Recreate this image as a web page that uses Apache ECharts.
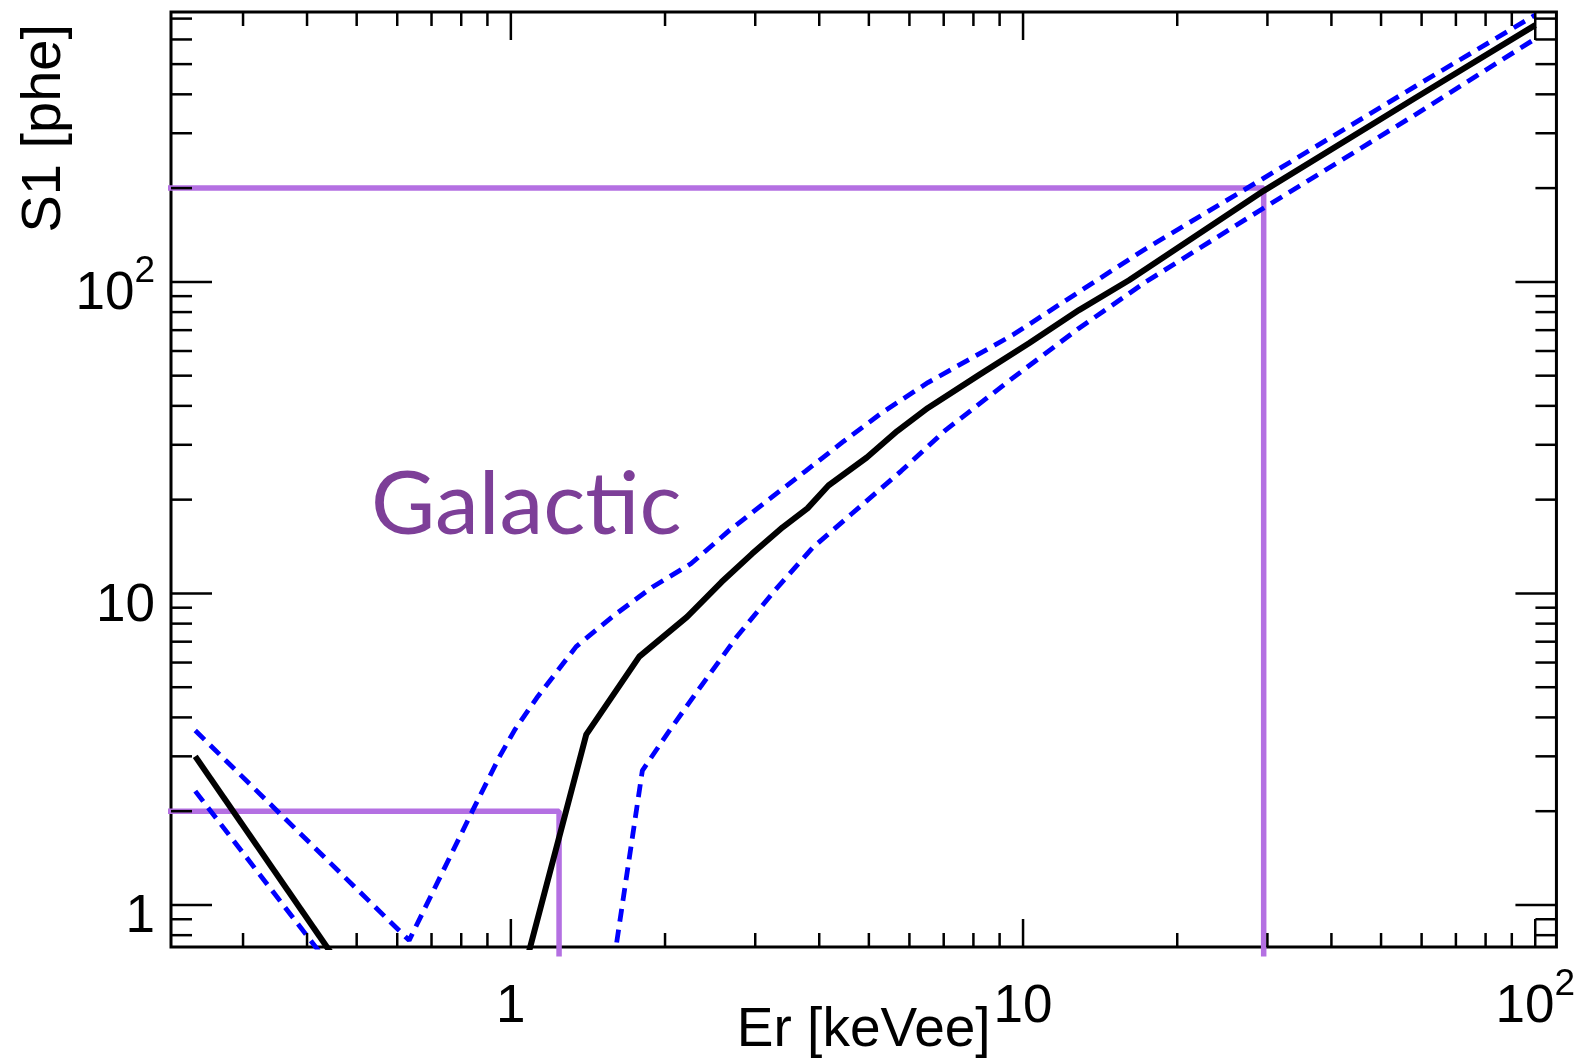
<!DOCTYPE html>
<html><head><meta charset="utf-8">
<script src="https://cdn.jsdelivr.net/npm/echarts@6/dist/echarts.min.js"></script>
<style>html,body{margin:0;padding:0;background:#fff}#c{width:1578px;height:1063px}</style>
</head><body><div id="c"></div>
<script>
// ---- data ----
const blackLowX = [0.242, 0.46];
const blackLowY = [3.0, 0.65];
const blackHighX = [1.07, 1.404, 1.781, 2.208, 2.578, 2.957, 3.393, 3.794, 4.169, 4.953, 5.68, 6.52, 8.21, 10.27, 12.86, 16.1, 29.5, 58.4, 100];
const blackHighY = [0.65, 3.53, 6.27, 8.41, 10.88, 13.4, 16.3, 18.75, 22.2, 27.3, 33.2, 39.4, 50.3, 63.5, 81.2, 101.2, 196, 390, 667];
const upperX = [0.242, 0.633, 0.841, 0.951, 1.019, 1.129, 1.341, 1.592, 1.891, 2.246, 2.667, 3.167, 3.762, 4.467, 5.3, 6.52, 9.54, 12.86, 17.36, 29.3, 58.4, 100];
const upperY = [3.63, 0.77, 2.0, 3.0, 3.66, 4.67, 6.75, 8.52, 10.49, 12.45, 15.9, 19.85, 24.7, 30.8, 38.0, 47.5, 67.5, 92.9, 127.8, 213.8, 425, 719];
const lowerLeftX = [0.242, 0.44];
const lowerLeftY = [2.32, 0.65];
const lowerX = [1.587, 1.806, 2.026, 2.324, 2.761, 3.278, 3.893, 4.623, 5.78, 7.07, 9.54, 12.86, 17.36, 29.3, 58.4, 100];
const lowerY = [0.65, 2.7, 3.57, 4.91, 7.26, 10.24, 14.08, 17.98, 24.7, 33.5, 49.1, 71.0, 100, 171.4, 344.6, 603];
const purpleHighX = [0.213, 29.5, 29.5];
const purpleHighY = [200, 200, 0.683];
const purpleLowX = [0.213, 1.242, 1.242];
const purpleLowY = [2.0, 2.0, 0.683];

const xRange = [0.217, 110];
const yRange = [0.733, 735];
const xMajorTicks = [1, 10, 100];
const xMinorTicks = [0.3, 0.4, 0.5, 0.6, 0.7, 0.8, 0.9, 2, 3, 4, 5, 6, 7, 8, 9, 20, 30, 40, 50, 60, 70, 80, 90];
const yMajorTicks = [1, 10, 100];
const yMinorTicks = [0.8, 0.9, 2, 3, 4, 5, 6, 7, 8, 9, 20, 30, 40, 50, 60, 70, 80, 90, 200, 300, 400, 500, 600, 700];
const tickLabelValues = [1, 10, 100];
const tickLabelTexts = ['{b|1}', '{b|10}', '{b|10}{s|2}'];
const xTitle = 'Er [keVee]';
const yTitle = 'S1 [phe]';
const annotation = 'Galactic';

// ---- chart ----
const FONT = '"Liberation Sans", Arial, Helvetica, sans-serif';
const zip = (xs, ys) => xs.map((x, i) => [x, ys[i]]);
function labelFor(v) {
  for (let i = 0; i < tickLabelValues.length; i++) {
    if (Math.abs(v - tickLabelValues[i]) < 1e-6 * tickLabelValues[i]) return tickLabelTexts[i];
  }
  return '';
}
const rich = {
  b: {fontSize: 53, fontFamily: FONT, color: '#000', lineHeight: 68, verticalAlign: 'bottom'},
  s: {fontSize: 37, fontFamily: FONT, color: '#000', lineHeight: 36, verticalAlign: 'top'}
};
function tickSeries(values, axis, len) {
  return {
    type: 'custom', coordinateSystem: 'cartesian2d', silent: true, clip: false, z: 10,
    data: values.map(v => axis === 'x' ? [v, 1] : [1, v]),
    renderItem: function (params, api) {
      const cs = params.coordSys;
      const p = api.coord([api.value(0), api.value(1)]);
      const st = {stroke: '#000', lineWidth: 2.5};
      if (axis === 'x') {
        const yb = cs.y + cs.height;
        return {type: 'group', children: [
          {type: 'line', shape: {x1: p[0], y1: yb, x2: p[0], y2: yb - len}, style: st},
          {type: 'line', shape: {x1: p[0], y1: cs.y, x2: p[0], y2: cs.y + len}, style: st}
        ]};
      }
      const xr = cs.x + cs.width;
      return {type: 'group', children: [
        {type: 'line', shape: {x1: cs.x, y1: p[1], x2: cs.x + len, y2: p[1]}, style: st},
        {type: 'line', shape: {x1: xr, y1: p[1], x2: xr - len, y2: p[1]}, style: st}
      ]};
    }
  };
}
const blue = {color: '#0000ff', width: 4.8, type: [13, 8]};
const purple = {color: '#b470e2', width: 5.5};
const black = {color: '#000', width: 6};
function lineSeries(data, style, clip, z) {
  return {type: 'line', data: data, showSymbol: false, symbol: 'none', clip: clip, z: z,
          lineStyle: style, silent: true, animation: false};
}
const chart = echarts.init(document.getElementById('c'));
chart.setOption({
  animation: false,
  backgroundColor: '#fff',
  grid: {left: 171, right: 20, top: 12, bottom: 111, show: true, borderColor: '#000', borderWidth: 3, backgroundColor: 'transparent'},
  xAxis: {
    type: 'log', logBase: 10, min: xRange[0], max: xRange[1],
    axisLine: {show: false}, axisTick: {show: false}, splitLine: {show: false},
    axisLabel: {showMinLabel: false, showMaxLabel: false, margin: 19, formatter: labelFor, rich: rich},
    name: xTitle, nameLocation: 'middle', nameGap: 56, nameMoveOverlap: false,
    nameTextStyle: {fontSize: 55, fontFamily: FONT, color: '#000'}
  },
  yAxis: {
    type: 'log', logBase: 10, min: yRange[0], max: yRange[1],
    axisLine: {show: false}, axisTick: {show: false}, splitLine: {show: false},
    axisLabel: {showMinLabel: false, showMaxLabel: false, margin: 16, padding: [10, 0, 0, 0], formatter: labelFor, rich: rich}
  },
  graphic: [
    {type: 'text', x: 45, y: 24, rotation: Math.PI / 2,
     style: {text: yTitle, fontSize: 56, fontFamily: FONT, fill: '#000', align: 'right', verticalAlign: 'middle', textAlign: 'right', textVerticalAlign: 'middle'}},
    {type: 'text', x: 371, y: 506,
     style: {text: annotation, fontSize: 88, fontFamily: 'Lato', fill: '#7d3f98', align: 'left', verticalAlign: 'middle', textAlign: 'left', textVerticalAlign: 'middle'}}
  ],
  series: [
    lineSeries(zip(purpleHighX, purpleHighY), purple, false, 2),
    lineSeries(zip(purpleLowX, purpleLowY), purple, false, 2),
    lineSeries(zip(upperX, upperY), blue, true, 3),
    lineSeries(zip(lowerLeftX, lowerLeftY), blue, true, 3),
    lineSeries(zip(lowerX, lowerY), blue, true, 3),
    lineSeries(zip(blackLowX, blackLowY), black, true, 4),
    lineSeries(zip(blackHighX, blackHighY), black, true, 4),
    tickSeries(xMajorTicks, 'x', 28),
    tickSeries(xMinorTicks, 'x', 14),
    tickSeries(yMajorTicks, 'y', 41),
    tickSeries(yMinorTicks, 'y', 21)
  ]
});
</script></body></html>
